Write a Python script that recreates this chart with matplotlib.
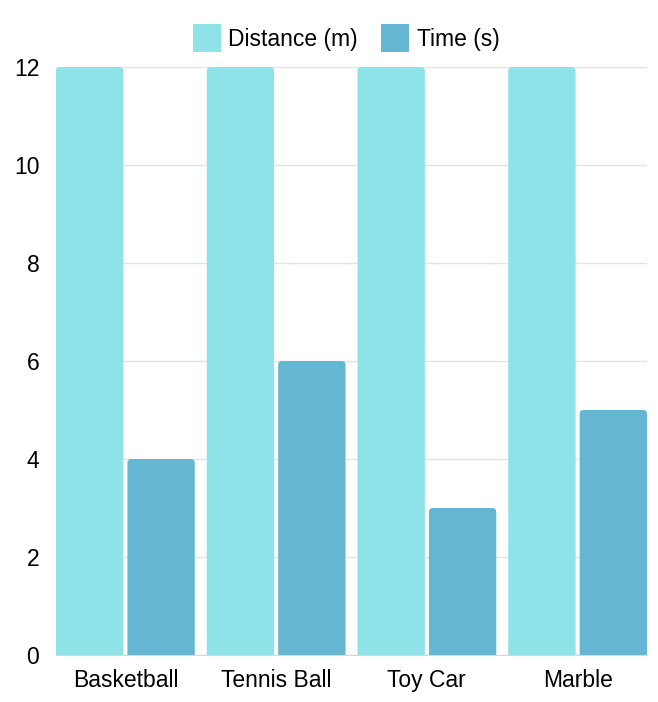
import matplotlib

matplotlib.use("Agg")
import matplotlib.pyplot as plt
from matplotlib.patches import FancyBboxPatch, Patch

categories = ["Basketball", "Tennis Ball", "Toy Car", "Marble"]
distance_m = [12, 12, 12, 12]
time_s = [4, 6, 3, 5]
series_names = ["Distance (m)", "Time (s)"]

COLORS = ["#8ee3e8", "#64b6d3"]
W, H = 658, 702

plt.rcParams["font.family"] = ["Liberation Sans", "DejaVu Sans"]

fig = plt.figure(figsize=(W / 100, H / 100), dpi=100)
ax = fig.add_axes([56 / W, 47 / H, (647 - 56) / W, (655 - 67) / H])

# layout in category units: 1 unit = one category slot
px = (647 - 56) / len(categories)
bar_w = 66 / px
inner_gap = 4 / px
half_group = bar_w + inner_gap / 2
ymax = 12

ax.set_xlim(-half_group, len(categories) - 1 + half_group)
ax.set_ylim(0, ymax)

# rounding: ~4 px radius on the top corners
rx = 4 / px
aspect = (ymax / (655 - 67)) / (1 / px)

for s, values in enumerate([distance_m, time_s]):
    for i, v in enumerate(values):
        x0 = i - half_group + s * (bar_w + inner_gap)
        patch = FancyBboxPatch(
            (x0, -1), bar_w, v + 1,
            boxstyle=f"round,pad=0,rounding_size={rx}",
            mutation_aspect=aspect,
            facecolor=COLORS[s], edgecolor="none", zorder=2,
        )
        ax.add_patch(patch)

ax.set_yticks(range(0, 13, 2))
ax.set_xticks(range(len(categories)))
ax.set_xticklabels(categories)
ax.tick_params(axis="both", length=0, labelsize=16.5, colors="#000000")
ax.tick_params(axis="y", pad=12)
ax.tick_params(axis="x", pad=10)

ax.grid(axis="y", color="#e3e3e3", linewidth=1, zorder=0)
ax.set_axisbelow(True)
for side in ["top", "right", "left"]:
    ax.spines[side].set_visible(False)
ax.spines["bottom"].set_color("#d6d6d6")
ax.spines["bottom"].set_zorder(3)

handles = [Patch(facecolor=c, edgecolor="none") for c in COLORS]
fig.legend(
    handles, series_names,
    loc="center", bbox_to_anchor=(346 / W, 1 - 38 / H),
    ncol=2, frameon=False, fontsize=16.5,
    handlelength=1.23, handleheight=1.55, handletextpad=0.33,
    columnspacing=1.0, borderaxespad=0,
)

fig.savefig("out.png", dpi=100)
plt.close()
